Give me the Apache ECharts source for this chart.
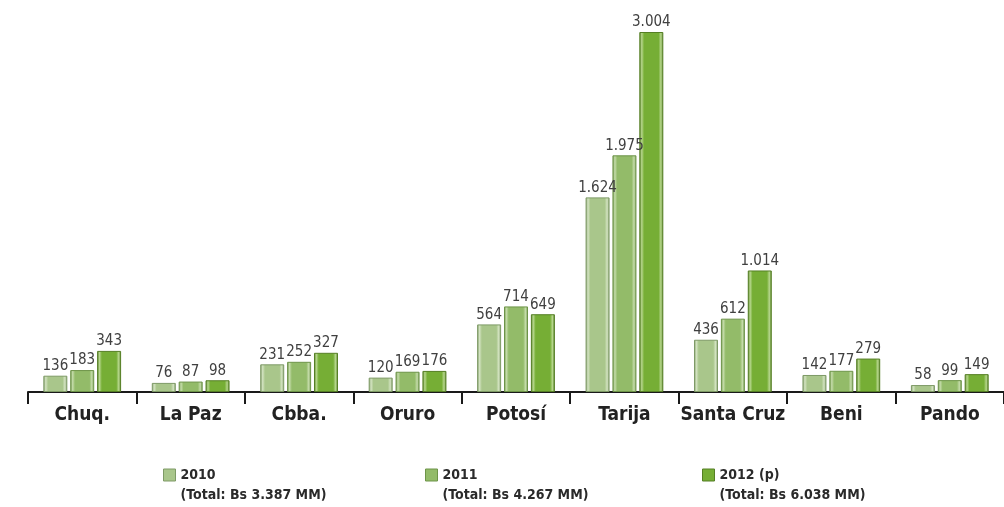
<!DOCTYPE html>
<html>
<head>
<meta charset="utf-8">
<script src="https://cdn.jsdelivr.net/npm/echarts@6/dist/echarts.min.js"></script>
<style>
	html, body { margin: 0; padding: 0; background: #fff; }
	#main { width: 1004px; height: 507px; }
</style>
</head>
<body>
<div id="main"></div>
<script>
var departamentos = ['Chuq.', 'La Paz', 'Cbba.', 'Oruro', 'Potosí', 'Tarija', 'Santa Cruz', 'Beni', 'Pando'];
var datos2010 = [136, 76, 231, 120, 564, 1624, 436, 142, 58];
var datos2011 = [183, 87, 252, 169, 714, 1975, 612, 177, 99];
var datos2012 = [343, 98, 327, 176, 649, 3004, 1014, 279, 149];
var nombresSerie = ['2010', '2011', '2012 (p)'];
var totales = ['3.387', '4.267', '6.038'];

var FUENTE = "'DejaVu Sans Condensed', 'Liberation Sans Narrow', sans-serif";

// relleno con brillo en los bordes para imitar el bisel
function relleno(borde, claro, base) {
	return new echarts.graphic.LinearGradient(0, 0, 1, 0, [
		{offset: 0, color: borde},
		{offset: 0.1, color: claro},
		{offset: 0.2, color: base},
		{offset: 0.8, color: base},
		{offset: 0.9, color: claro},
		{offset: 1, color: borde}
	]);
}

var estilos = [
	{base: '#a9c68b', claro: '#d3e3c1', borde: '#7e9a66'},
	{base: '#93bb69', claro: '#c5dcaa', borde: '#6d9448'},
	{base: '#76ae35', claro: '#b6d68c', borde: '#557f24'}
];

function miles(v) {
	return String(v).replace(/\B(?=(\d{3})+(?!\d))/g, '.');
}

var listas = [datos2010, datos2011, datos2012];
var series = [];
for (var i = 0; i < listas.length; i++) {
	var e = estilos[i];
	series.push({
		name: nombresSerie[i],
		type: 'bar',
		barWidth: 24,
		barGap: '12%',
		data: listas[i],
		itemStyle: {
			color: relleno(e.borde, e.claro, e.base),
			borderColor: e.borde,
			borderWidth: 1
		},
		label: {
			show: true,
			position: 'top',
			distance: 2,
			fontFamily: FUENTE,
			fontSize: 15,
			color: '#404040',
			formatter: function (p) { return miles(p.value); }
		}
	});
}

var posLeyenda = [163, 425, 702];
var leyendas = [];
for (var j = 0; j < nombresSerie.length; j++) {
	(function (j) {
		leyendas.push({
			left: posLeyenda[j],
			top: 468,
			padding: 0,
			orient: 'vertical',
			icon: 'rect',
			itemWidth: 12,
			itemHeight: 12,
			itemGap: 0,
			selectedMode: false,
			data: [{name: nombresSerie[j], itemStyle: {color: estilos[j].base, borderColor: estilos[j].borde, borderWidth: 1}}],
			formatter: function (name) {
				return '{a|' + name + '}\n{b|(Total: Bs ' + totales[j] + ' MM)}';
			},
			textStyle: {
				padding: [20, 0, 0, 0],
				rich: {
					a: {fontFamily: FUENTE, fontWeight: 'bold', fontSize: 14, color: '#2a2a2a', lineHeight: 20},
					b: {fontFamily: FUENTE, fontWeight: 'bold', fontSize: 14, color: '#2a2a2a', lineHeight: 20}
				}
			}
		});
	})(j);
}

var chart = echarts.init(document.getElementById('main'));
chart.setOption({
	animation: false,
	legend: leyendas,
	grid: {
		left: 28,
		top: 32,
		width: 990,
		bottom: 115,
		containLabel: false
	},
	xAxis: {
		type: 'category',
		data: departamentos,
		axisLine: {lineStyle: {color: '#1a1a1a', width: 2}},
		axisTick: {show: true, length: 12, lineStyle: {color: '#1a1a1a', width: 2}},
		axisLabel: {
			interval: 0,
			fontFamily: FUENTE,
			fontWeight: 'bold',
			fontSize: 19,
			color: '#222',
			margin: 14
		}
	},
	yAxis: {
		type: 'value',
		min: 0,
		max: 3004,
		show: false,
		splitLine: {show: false}
	},
	series: series
});
</script>
</body>
</html>
